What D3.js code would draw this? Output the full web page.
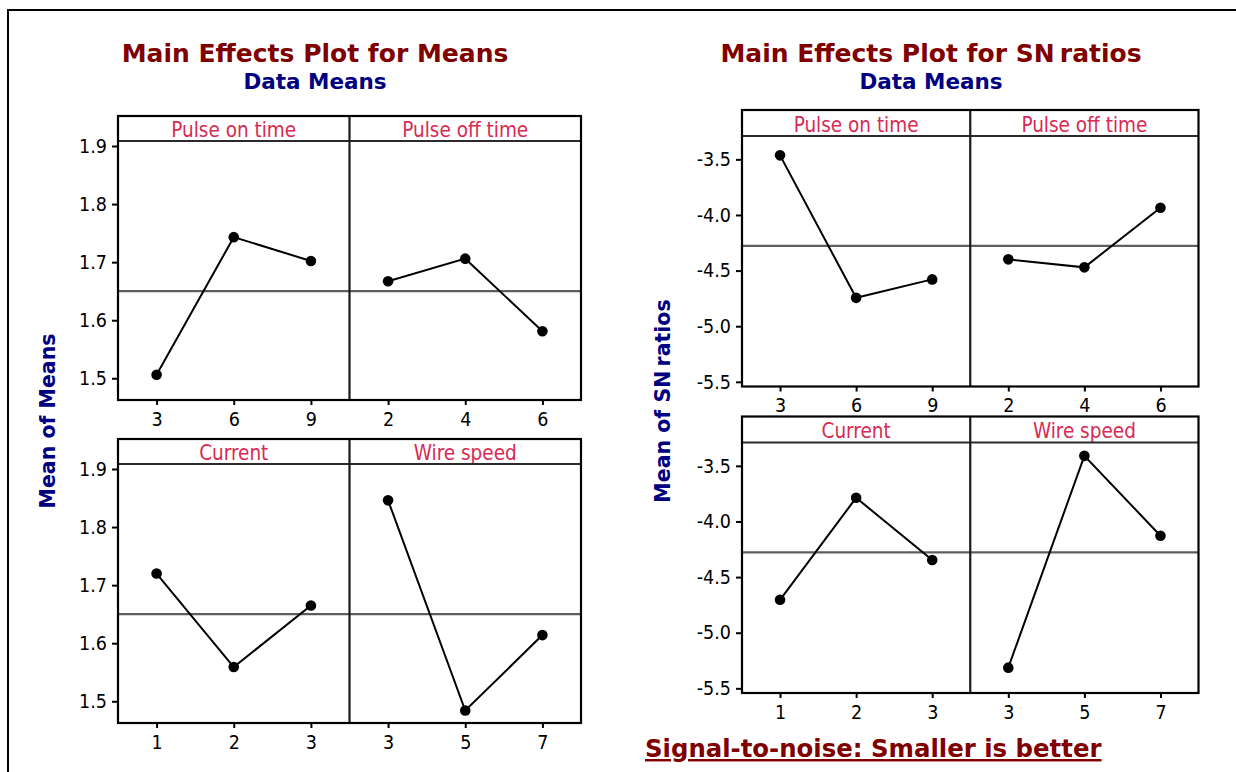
<!DOCTYPE html>
<html>
<head>
<meta charset="utf-8">
<script src="https://cdn.jsdelivr.net/npm/d3@7"></script>
<style>
  body { margin: 0; background: #fff; }
  svg { display: block; }
</style>
</head>
<body>
<script>
var factorNames = ["Pulse on time", "Pulse off time", "Current", "Wire speed"];
var factorLevels = [["3", "6", "9"], ["2", "4", "6"], ["1", "2", "3"], ["3", "5", "7"]];

// mean of means per level
var meansValues = [
  [1.506, 1.743, 1.702],
  [1.667, 1.706, 1.581],
  [1.720, 1.559, 1.665],
  [1.846, 1.484, 1.614]
];
var meansGrand = 1.650;
var meansTicks = [1.5, 1.6, 1.7, 1.8, 1.9];

// mean of SN ratios per level
var snValues = [
  [-3.464, -4.745, -4.579],
  [-4.399, -4.471, -3.935],
  [-4.704, -3.787, -4.346],
  [-5.314, -3.410, -4.128]
];
var snGrand = -4.277;
var snTicks = [-5.5, -5.0, -4.5, -4.0, -3.5];

var tickFont = "'DejaVu Sans Condensed', 'DejaVu Sans', sans-serif";
var titleFont = "'DejaVu Sans', sans-serif";
var stripColor = "#d82a52";

var svg = d3.select("body").append("svg")
  .attr("width", 1236)
  .attr("height", 772);

// outer frame (left and top only)
svg.append("path")
  .attr("d", "M8,772V10H1236")
  .attr("fill", "none")
  .attr("stroke", "#000")
  .attr("stroke-width", 2);

// text with a tighter gap between parts ("SN ratios")
function tightText(sel, parts) {
  parts.forEach(function(part, k) {
    sel.append("tspan").attr("dx", k ? "-0.14em" : 0).text(part);
  });
}

function drawChart(opt) {
  var y = d3.scaleLinear().domain(opt.domain).range([opt.plotH, 0]);
  var line = d3.line()
    .x(function(d) { return d.x; })
    .y(function(d) { return y(d.value); });

  var tt = svg.append("text")
    .attr("x", opt.cx).attr("y", 62)
    .attr("text-anchor", "middle")
    .attr("font-family", titleFont).attr("font-weight", "bold")
    .attr("font-size", 25).attr("fill", "#800000");
  tightText(tt, opt.title);
  svg.append("text")
    .attr("x", opt.cx).attr("y", 89)
    .attr("text-anchor", "middle")
    .attr("font-family", titleFont).attr("font-weight", "bold")
    .attr("font-size", 21.5).attr("fill", "#000080")
    .text("Data Means");

  var yt = svg.append("text")
    .attr("transform", "translate(" + opt.yTitleX + "," + opt.yTitleY + ")rotate(-90)")
    .attr("text-anchor", "middle")
    .attr("font-family", titleFont).attr("font-weight", "bold")
    .attr("font-size", 20.5).attr("fill", "#000080");
  tightText(yt, opt.yTitle);

  for (var r = 0; r < 2; r++) {
    var top = opt.rowTops[r];
    for (var c = 0; c < 2; c++) {
      var i = r * 2 + c;
      var x = d3.scalePoint().domain(factorLevels[i]).range([0, opt.colW]).padding(0.5);
      var p = svg.append("g")
        .attr("transform", "translate(" + (opt.left + c * opt.colW) + "," + top + ")");

      p.append("text")
        .attr("x", opt.colW / 2).attr("y", opt.stripH - 4.5)
        .attr("text-anchor", "middle")
        .attr("font-family", tickFont).attr("font-size", 20.5)
        .attr("fill", stripColor)
        .text(factorNames[i]);

      var pg = p.append("g").attr("transform", "translate(0," + opt.stripH + ")");

      pg.append("line")
        .attr("x1", 0).attr("x2", opt.colW)
        .attr("y1", y(opt.grand)).attr("y2", y(opt.grand))
        .attr("stroke", "#5e5e5e").attr("stroke-width", 2.2);

      var pts = factorLevels[i].map(function(lv, j) {
        return { x: x(lv), value: opt.values[i][j] };
      });
      pg.append("path")
        .datum(pts)
        .attr("d", line)
        .attr("fill", "none")
        .attr("stroke", "#000").attr("stroke-width", 2);
      pg.selectAll("circle")
        .data(pts)
        .enter().append("circle")
        .attr("cx", function(d) { return d.x; })
        .attr("cy", function(d) { return y(d.value); })
        .attr("r", 5.3)
        .attr("fill", "#000");

      var xa = pg.append("g")
        .attr("transform", "translate(0," + opt.plotH + ")")
        .call(d3.axisBottom(x).tickSize(5).tickPadding(7));
      xa.select(".domain").remove();
      xa.attr("font-family", tickFont).attr("font-size", 19.5);
      xa.selectAll("line").attr("stroke", "#000").attr("stroke-width", 2);

      if (c == 0) {
        var ya = pg.append("g")
          .call(d3.axisLeft(y).tickValues(opt.ticks).tickSize(6).tickPadding(opt.yPad)
            .tickFormat(function(d) { return d.toFixed(1); }));
        ya.select(".domain").remove();
        ya.attr("font-family", tickFont).attr("font-size", 19.5);
        ya.selectAll("line").attr("stroke", "#000").attr("stroke-width", 2);
      }
    }

    // row frame, divider, strip line
    var w = opt.colW * 2, h = opt.stripH + opt.plotH;
    svg.append("line")
      .attr("x1", opt.left).attr("x2", opt.left + w)
      .attr("y1", top + opt.stripH).attr("y2", top + opt.stripH)
      .attr("stroke", "#2a2a2a").attr("stroke-width", 2.2);
    svg.append("line")
      .attr("x1", opt.left + opt.colW).attr("x2", opt.left + opt.colW)
      .attr("y1", top).attr("y2", top + h)
      .attr("stroke", "#1a1a1a").attr("stroke-width", 2.2);
    svg.append("rect")
      .attr("x", opt.left).attr("y", top)
      .attr("width", w).attr("height", h)
      .attr("fill", "none")
      .attr("stroke", "#000").attr("stroke-width", 2.2);
  }
}

drawChart({
  title: ["Main Effects Plot for Means"],
  yTitle: ["Mean of Means"],
  cx: 315, yTitleX: 55, yTitleY: 421,
  left: 118, colW: 231.5,
  rowTops: [116, 439], stripH: 25, plotH: 259,
  domain: [1.4626, 1.9086],
  ticks: meansTicks, values: meansValues, grand: meansGrand,
  yPad: 5
});

drawChart({
  title: ["Main Effects Plot for SN", " ratios"],
  yTitle: ["Mean of SN", " ratios"],
  cx: 931, yTitleX: 670, yTitleY: 401,
  left: 742, colW: 228.25,
  rowTops: [110, 416.5], stripH: 26, plotH: 250.5,
  domain: [-5.542, -3.290],
  ticks: snTicks, values: snValues, grand: snGrand,
  yPad: 5
});

svg.append("text")
  .attr("x", 645).attr("y", 757)
  .attr("font-family", titleFont).attr("font-weight", "bold")
  .attr("font-size", 24.4).attr("fill", "#800000")
  .attr("text-decoration", "underline")
  .text("Signal-to-noise: Smaller is better");
</script>
</body>
</html>
